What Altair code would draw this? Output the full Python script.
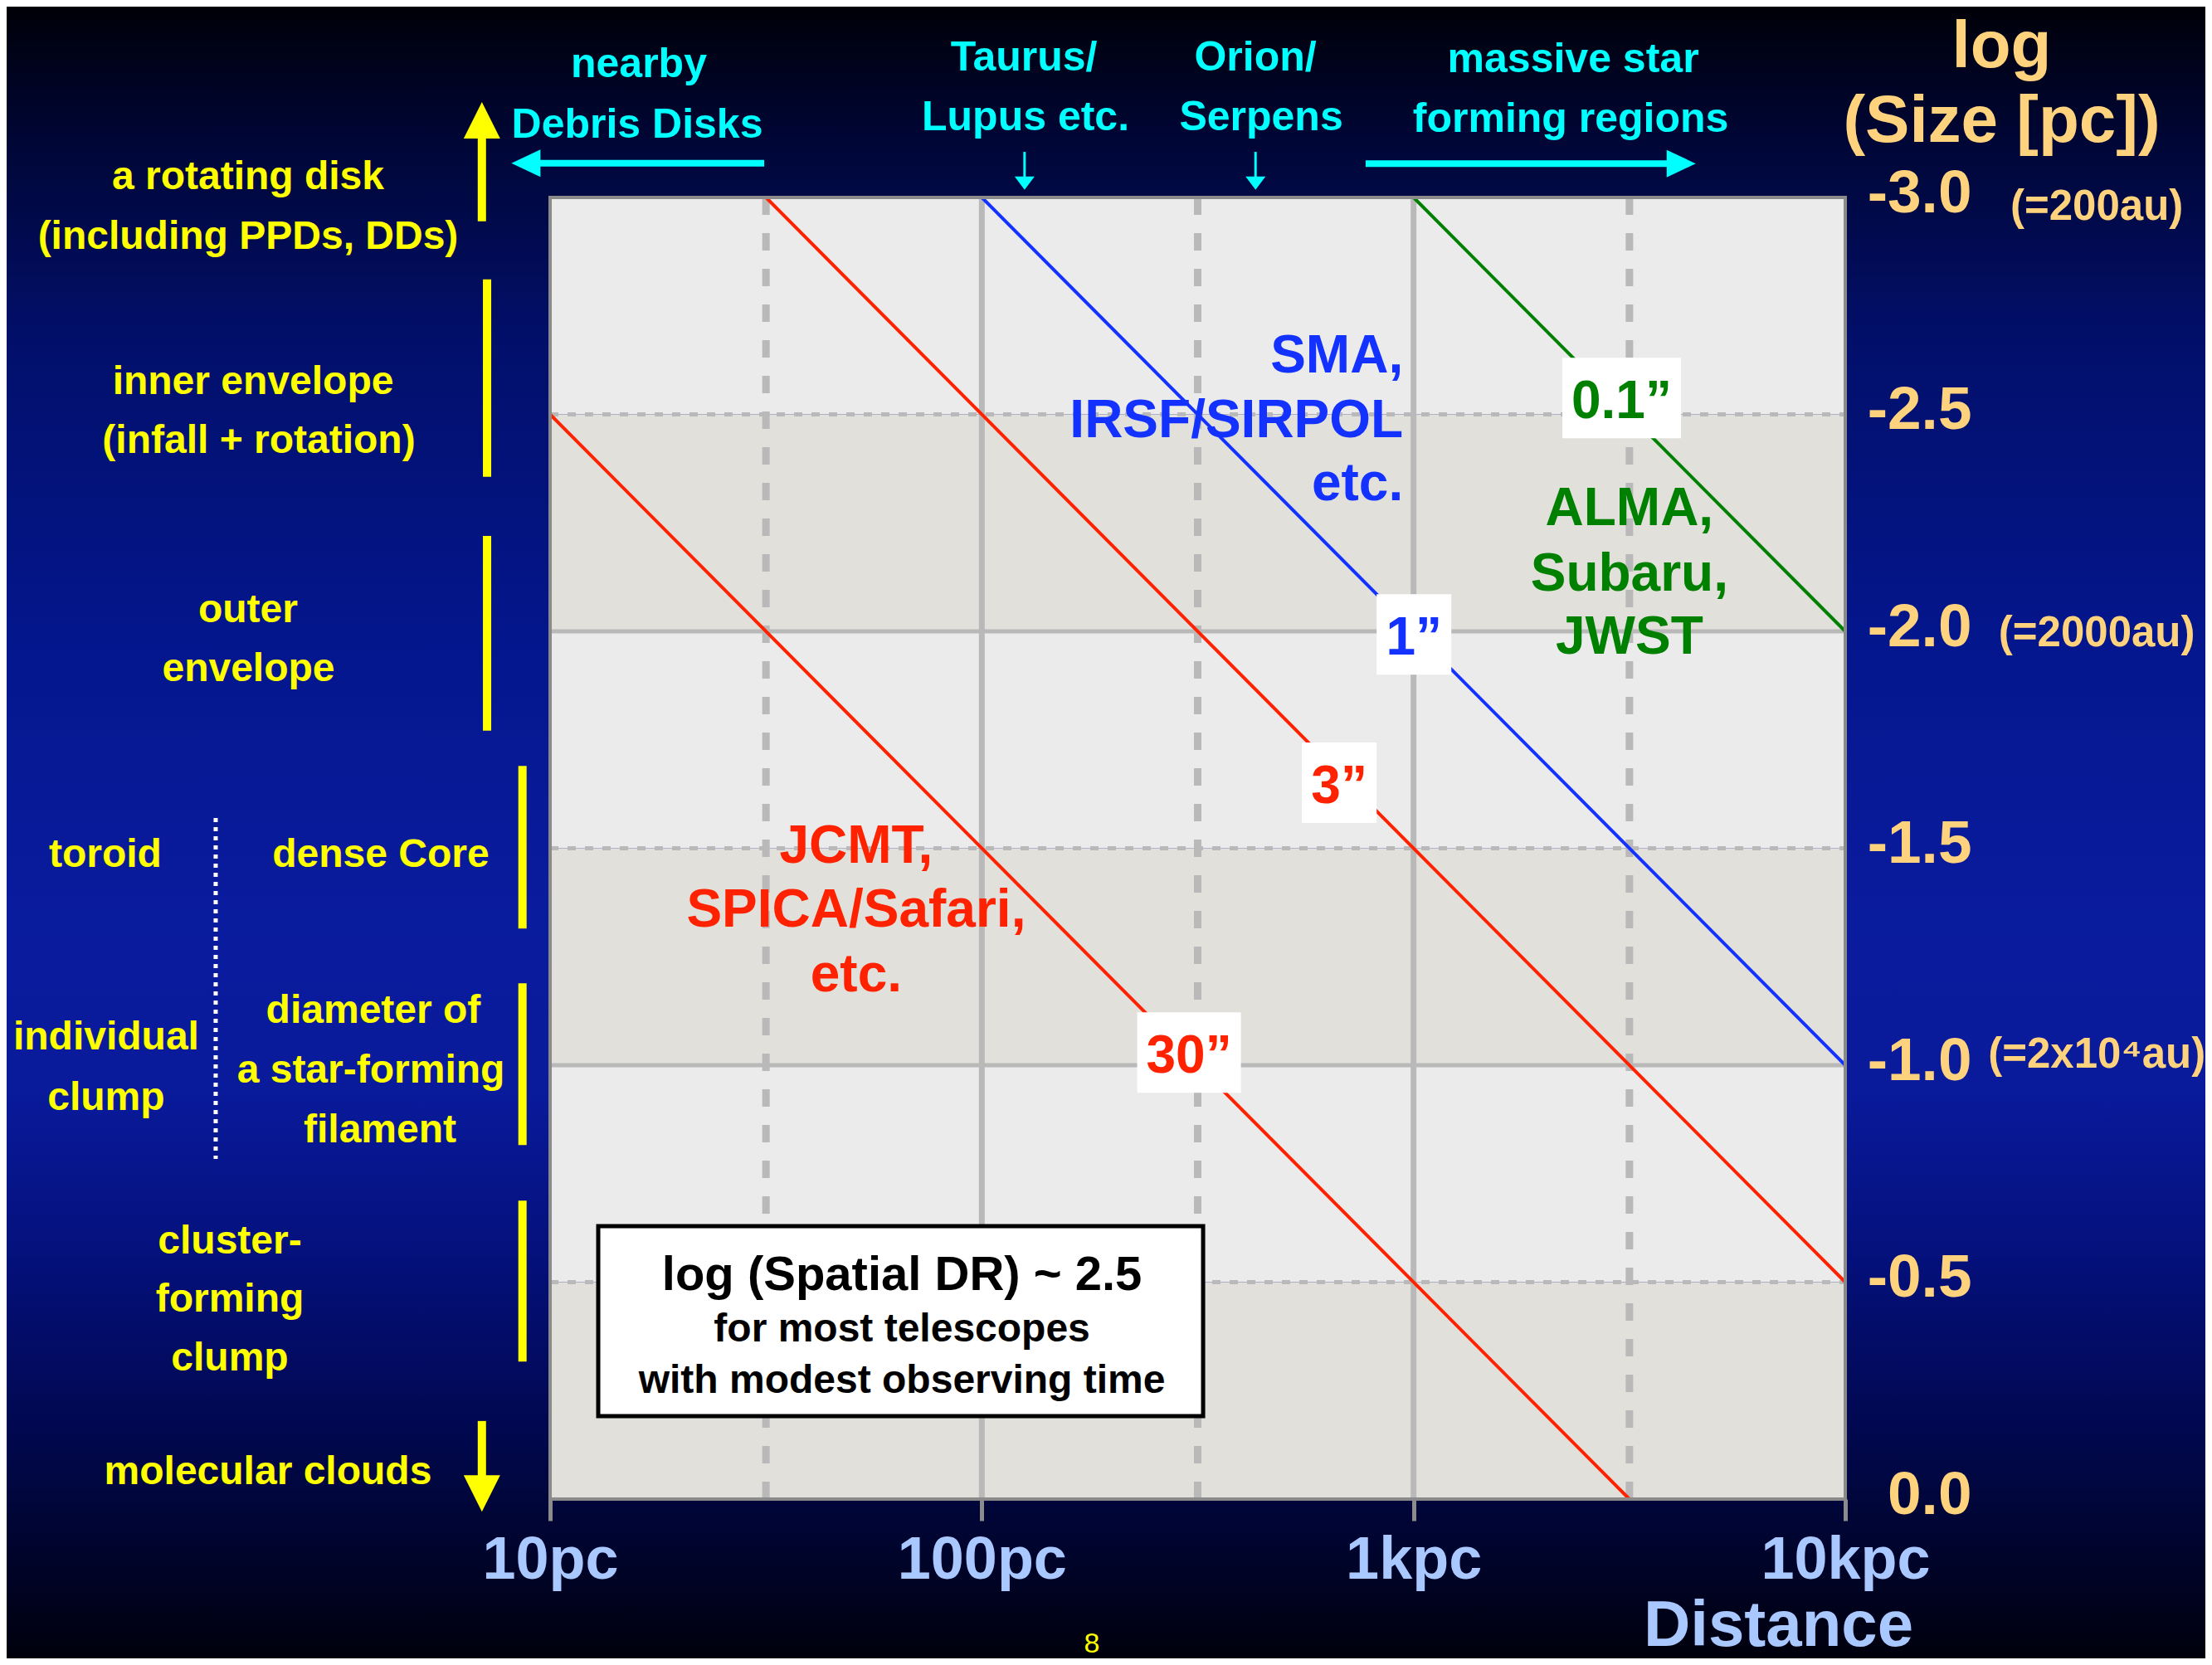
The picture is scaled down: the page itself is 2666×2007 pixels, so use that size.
import json
import altair as alt
import pandas as pd

# ---------------- data ----------------
# plot-area background bands (log size ranges)
band_lo = [-3.0, -2.5, -2.0, -1.5, -1.0, -0.5]
band_hi = [-2.5, -2.0, -1.5, -1.0, -0.5, 0.0]
band_kind = ["light", "dark", "light", "dark", "light", "dark"]

grid_x_solid = [2.0, 3.0]
grid_x_dash = [1.5, 2.5, 3.5]
grid_y_solid = [-2.0, -1.0]
grid_y_dash = [-2.5, -1.5, -0.5]

# axis ticks
x_ticks = [1, 2, 3, 4]
x_tick_labels = ["10pc", "100pc", "1kpc", "10kpc"]
y_ticks = [-3.0, -2.5, -2.0, -1.5, -1.0, -0.5, 0.0]

# angular-resolution lines (log distance -> log size)
res_label = ["30”", "3”", "1”", "0.1”"]
res_tone = ["red", "red", "blue", "green"]
res_x0 = [1.0, 1.5, 2.0, 3.0]
res_y0 = [-2.5, -3.0, -3.0, -3.0]
res_x1 = [3.5, 4.0, 4.0, 4.0]
res_y1 = [0.0, -0.5, -1.0, -2.0]
res_lab_x = [2.480, 2.828, 3.001, 3.482]
res_lab_y = [-1.029, -1.651, -1.993, -2.538]

# telescope labels
tel_text = ["SMA,", "IRSF/SIRPOL", "etc.", "ALMA,", "Subaru,", "JWST",
            "JCMT,", "SPICA/Safari,", "etc."]
tel_tone = ["blue"] * 3 + ["green"] * 3 + ["red"] * 3
tel_align = ["right"] * 3 + ["center"] * 6
tel_x = [2.976] * 3 + [3.500] * 3 + [1.709] * 3
tel_y = [-2.597, -2.447, -2.302, -2.245, -2.094, -1.948, -1.467, -1.319, -1.170]

# dynamic-range note box
dr_box_x = [1.1115, 2.5126]
dr_box_y = [-0.629, -0.191]
dr_text = ["log (Spatial DR) ~ 2.5", "for most telescopes", "with modest observing time"]
dr_level = ["main", "sub", "sub"]
dr_x = [1.815, 1.815, 1.815]
dr_y = [-0.482, -0.363, -0.245]

# left: structure labels (yellow)
st_text = ["a rotating disk", "(including PPDs, DDs)", "inner envelope", "(infall + rotation)",
           "outer", "envelope", "toroid", "dense Core", "individual", "clump",
           "diameter of", "a star-forming", "filament", "cluster-", "forming", "clump",
           "molecular clouds"]
st_x = [0.3004, 0.3004, 0.312, 0.3254, 0.3004, 0.3014, -0.0302, 0.6079, -0.0283, -0.0283,
        0.5906, 0.5849, 0.606, 0.2581, 0.2581, 0.2581, 0.3465]
st_y = [-3.0191, -2.8815, -2.5468, -2.4111, -2.0210, -1.8853, -1.4570, -1.4570, -1.0363,
        -0.8967, -1.0975, -0.9598, -0.8222, -0.5660, -0.4321, -0.2964, -0.0344]

# left: yellow range bars and arrow shafts (x, from, to)
yb_x = [0.842, 0.854, 0.854, 0.936, 0.936, 0.936, 0.842]
yb_y0 = [-2.945, -2.811, -2.220, -1.690, -1.189, -0.688, -0.180]
yb_y1 = [-3.160, -2.356, -1.771, -1.315, -0.816, -0.317, -0.030]

# dotted separator (toroid / individual clump)
dot_x = [0.2254]
dot_y0 = [-1.570]
dot_y1 = [-0.784]

# top: region labels (cyan)
rg_text = ["nearby", "Debris Disks", "Taurus/", "Lupus etc.", "Orion/", "Serpens",
           "massive star", "forming regions"]
rg_x = [1.2056, 1.2018, 2.0975, 2.1013, 2.6337, 2.6471, 3.3698, 3.364]
rg_y = [-3.2772, -3.1377, -3.2925, -3.1549, -3.2925, -3.1549, -3.2887, -3.1511]

# top: cyan arrow shafts
ch_x0 = [1.496, 2.889]
ch_x1 = [0.965, 3.600]
ch_y = [-3.079, -3.078]
ct_x = [2.099, 2.634]
ct_y0 = [-3.105, -3.105]
ct_y1 = [-3.045, -3.045]

# arrow heads
head_kind = ["up", "down", "left", "right", "thin", "thin"]
head_x = [0.842, 0.842, 0.944, 3.620, 2.099, 2.634]
head_y = [-3.178, -0.013, -3.079, -3.078, -3.033, -3.033]

# right: size equivalents
au_text = ["(=200au)", "(=2000au)", "(=2x10⁴au)"]
au_x = [4.5826, 4.5826, 4.5826]
au_y = [-2.948, -1.966, -0.994]

page_text = ["8"]
page_x = [2.255]
page_y = [0.3537]

# ---------------- styles ----------------
FONT = "Liberation Sans"
YELLOW = "#FFFF00"
CYAN = "#00FFFF"
ORANGE = "#FFD27D"
PALEBLUE = "#A9C8FF"
GRID = "#B9B9B9"

W, H = 1561, 1569
PAD = {"left": 655, "top": 230, "right": 434, "bottom": 192}

XS = alt.Scale(domain=[1, 4], nice=False, zero=False)
YS = alt.Scale(domain=[-3, 0], reverse=True, nice=False, zero=False)

XA = alt.Axis(
    values=x_ticks, labelExpr=json.dumps(x_tick_labels) + "[round(datum.value) - 1]",
    title="Distance", grid=False, domain=False, ticks=True, tickSize=26, tickWidth=5,
    tickColor="#8c8c8c", labelFont=FONT, labelFontSize=72, labelFontWeight="bold",
    labelColor=PALEBLUE, labelPadding=12, labelFlush=False, labelOverlap=False, labelLimit=0,
    titleFont=FONT, titleFontSize=78, titleFontWeight="bold", titleColor=PALEBLUE,
    titleX=1480, titleY=176, titleAlign="center", titleBaseline="alphabetic",
    titleLimit=0, zindex=1)
YA = alt.Axis(
    orient="right", values=y_ticks,
    labelExpr="datum.value < 0 ? '-' + format(-datum.value, '.1f') : format(datum.value, '.1f')",
    title=["log", "(Size [pc])"], grid=False, domain=False, ticks=False,
    labelAlign="right", labelBaseline="alphabetic", labelOffset=17, labelPadding=152,
    labelFont=FONT, labelFontSize=73, labelFontWeight="bold", labelColor=ORANGE,
    labelOverlap=False, labelFlush=False, labelLimit=0,
    titleFont=FONT, titleFontSize=80, titleFontWeight="bold", titleColor=ORANGE,
    titleAngle=0, titleX=188, titleY=-158, titleAlign="center", titleBaseline="alphabetic",
    titleLineHeight=90, titleLimit=0, zindex=1)

TONE = alt.Scale(domain=["red", "blue", "green"], range=["#FF2200", "#1432FF", "#008000"])


def X(f):
    return alt.X(f, type="quantitative", scale=XS, axis=XA)


def Y(f):
    return alt.Y(f, type="quantitative", scale=YS, axis=YA)


# ---------------- layers ----------------
layers = []

# slide background gradient
grad = alt.LinearGradient(
    gradient="linear", x1=0, x2=0, y1=0, y2=1,
    stops=[alt.GradientStop(offset=0.0, color="#000008"),
           alt.GradientStop(offset=0.08, color="#000635"),
           alt.GradientStop(offset=0.2, color="#020f6a"),
           alt.GradientStop(offset=0.38, color="#04168c"),
           alt.GradientStop(offset=0.55, color="#0a1c9e"),
           alt.GradientStop(offset=0.66, color="#091a9a"),
           alt.GradientStop(offset=0.76, color="#04107a"),
           alt.GradientStop(offset=0.86, color="#010850"),
           alt.GradientStop(offset=0.94, color="#00042a"),
           alt.GradientStop(offset=1.0, color="#00000c")])
layers.append(
    alt.Chart(pd.DataFrame({"a": [0]})).mark_rect(fill=grad, strokeWidth=0).encode(
        x=alt.value(-PAD["left"]), x2=alt.value(W + PAD["right"]),
        y=alt.value(-PAD["top"]), y2=alt.value(H + PAD["bottom"])))

# bands
bands = pd.DataFrame({"x0": [1.0] * 6, "x1": [4.0] * 6, "lo": band_lo, "hi": band_hi, "band": band_kind})
layers.append(alt.Chart(bands).mark_rect().encode(
    x=X("x0"), x2="x1", y=Y("lo"), y2="hi",
    fill=alt.Fill("band:N", scale=alt.Scale(domain=["light", "dark"], range=["#EBEBEB", "#E1E0DB"]),
                  legend=None)))

# grid lines
gxs = pd.DataFrame({"x": grid_x_solid, "y0": -3.0, "y1": 0.0})
gxd = pd.DataFrame({"x": grid_x_dash, "y0": -3.0, "y1": 0.0})
gys = pd.DataFrame({"y": grid_y_solid, "x0": 1.0, "x1": 4.0})
gyd = pd.DataFrame({"y": grid_y_dash, "x0": 1.0, "x1": 4.0})
layers.append(alt.Chart(gys).mark_rule(color=GRID, strokeWidth=5).encode(x=X("x0"), x2="x1", y=Y("y")))
layers.append(alt.Chart(gyd).mark_rule(color=GRID, strokeWidth=5, strokeDash=[10, 11]).encode(
    x=X("x0"), x2="x1", y=Y("y")))
layers.append(alt.Chart(gxs).mark_rule(color=GRID, strokeWidth=7).encode(x=X("x"), y=Y("y0"), y2="y1"))
layers.append(alt.Chart(gxd).mark_rule(color=GRID, strokeWidth=9, strokeDash=[21, 22]).encode(
    x=X("x"), y=Y("y0"), y2="y1"))

# resolution lines
rows = []
for lab, tone, a, b, c, d in zip(res_label, res_tone, res_x0, res_y0, res_x1, res_y1):
    rows.append({"label": lab, "tone": tone, "x": a, "y": b})
    rows.append({"label": lab, "tone": tone, "x": c, "y": d})
res_df = pd.DataFrame(rows)
layers.append(alt.Chart(res_df).mark_line(strokeWidth=4).encode(
    x=X("x"), y=Y("y"), detail="label:N", color=alt.Color("tone:N", scale=TONE, legend=None)))

# plot border
border = pd.DataFrame({"x0": [1.0], "x1": [4.0], "y0": [-3.0], "y1": [0.0]})
layers.append(alt.Chart(border).mark_rect(fillOpacity=0, stroke="#8a8a8a", strokeWidth=4).encode(
    x=X("x0"), x2="x1", y=Y("y0"), y2="y1"))

# white boxes behind resolution labels
res_lab = pd.DataFrame({"label": res_label, "tone": res_tone, "x": res_lab_x, "y": res_lab_y})
box_half = {"30”": 1.289, "3”": 0.928, "1”": 0.928, "0.1”": 1.474}
for lab, hw in box_half.items():
    path = f"M{-hw},-1L{hw},-1L{hw},1L{-hw},1Z"
    layers.append(alt.Chart(res_lab).transform_filter(alt.datum.label == lab).mark_point(
        shape=path, size=97 * 97, filled=True, color="white", opacity=1, strokeWidth=0).encode(
        x=X("x"), y=Y("y")))
layers.append(alt.Chart(res_lab).mark_text(
    font=FONT, fontSize=64, fontWeight="bold", baseline="middle", dy=5).encode(
    x=X("x"), y=Y("y"), text="label:N", color=alt.Color("tone:N", scale=TONE, legend=None)))

# telescope labels
tel = pd.DataFrame({"text": tel_text, "tone": tel_tone, "align": tel_align, "x": tel_x, "y": tel_y})
for al in ["right", "center"]:
    layers.append(alt.Chart(tel).transform_filter(alt.datum.align == al).mark_text(
        font=FONT, fontSize=64, fontWeight="bold", align=al, baseline="alphabetic").encode(
        x=X("x"), y=Y("y"), text="text:N", color=alt.Color("tone:N", scale=TONE, legend=None)))

# DR box
drb = pd.DataFrame({"x0": [dr_box_x[0]], "x1": [dr_box_x[1]], "y0": [dr_box_y[0]], "y1": [dr_box_y[1]]})
layers.append(alt.Chart(drb).mark_rect(fill="white", stroke="black", strokeWidth=5).encode(
    x=X("x0"), x2="x1", y=Y("y0"), y2="y1"))
drt = pd.DataFrame({"text": dr_text, "level": dr_level, "x": dr_x, "y": dr_y})
for lev, fs in [("main", 58), ("sub", 48)]:
    layers.append(alt.Chart(drt).transform_filter(alt.datum.level == lev).mark_text(
        font=FONT, fontSize=fs, fontWeight="bold", color="black", align="center",
        baseline="alphabetic").encode(x=X("x"), y=Y("y"), text="text:N"))

# left yellow annotations
yb = pd.DataFrame({"x": yb_x, "y0": yb_y0, "y1": yb_y1})
layers.append(alt.Chart(yb).mark_rule(color=YELLOW, strokeWidth=10).encode(x=X("x"), y=Y("y0"), y2="y1"))
dots = pd.DataFrame({"x": dot_x, "y0": dot_y0, "y1": dot_y1})
layers.append(alt.Chart(dots).mark_rule(color="white", strokeWidth=5, strokeDash=[5, 6]).encode(
    x=X("x"), y=Y("y0"), y2="y1"))
st = pd.DataFrame({"text": st_text, "x": st_x, "y": st_y})
layers.append(alt.Chart(st).mark_text(
    font=FONT, fontSize=48, fontWeight="bold", color=YELLOW, align="center",
    baseline="alphabetic").encode(x=X("x"), y=Y("y"), text="text:N"))

# top cyan annotations
chd = pd.DataFrame({"x0": ch_x0, "x1": ch_x1, "y": ch_y})
layers.append(alt.Chart(chd).mark_rule(color=CYAN, strokeWidth=8).encode(x=X("x0"), x2="x1", y=Y("y")))
ctd = pd.DataFrame({"x": ct_x, "y0": ct_y0, "y1": ct_y1})
layers.append(alt.Chart(ctd).mark_rule(color=CYAN, strokeWidth=3).encode(x=X("x"), y=Y("y0"), y2="y1"))
rg = pd.DataFrame({"text": rg_text, "x": rg_x, "y": rg_y})
layers.append(alt.Chart(rg).mark_text(
    font=FONT, fontSize=50, fontWeight="bold", color=CYAN, align="center",
    baseline="alphabetic").encode(x=X("x"), y=Y("y"), text="text:N"))

# arrow heads
heads = pd.DataFrame({"kind": head_kind, "x": head_x, "y": head_y})
head_style = {
    "up": ("M0,-1L1,1L-1,1Z", 44 * 44, YELLOW),
    "down": ("M0,1L1,-1L-1,-1Z", 44 * 44, YELLOW),
    "left": ("M-1,0L1,-0.94L1,0.94Z", 35 * 35, CYAN),
    "right": ("M1,0L-1,-0.94L-1,0.94Z", 35 * 35, CYAN),
    "thin": ("M0,0.67L1,-0.67L-1,-0.67Z", 24 * 24, CYAN),
}
for k, (path, sz, col) in head_style.items():
    layers.append(alt.Chart(heads).transform_filter(alt.datum.kind == k).mark_point(
        shape=path, size=sz, filled=True, color=col, opacity=1, strokeWidth=0).encode(
        x=X("x"), y=Y("y")))

# right: au equivalents
au = pd.DataFrame({"text": au_text, "x": au_x, "y": au_y})
layers.append(alt.Chart(au).mark_text(
    font=FONT, fontSize=51, fontWeight="bold", color=ORANGE, align="center",
    baseline="alphabetic").encode(x=X("x"), y=Y("y"), text="text:N"))

# page number
pg = pd.DataFrame({"text": page_text, "x": page_x, "y": page_y})
layers.append(alt.Chart(pg).mark_text(
    font=FONT, fontSize=34, color=YELLOW, align="center", baseline="alphabetic").encode(
    x=X("x"), y=Y("y"), text="text:N"))

chart = alt.layer(*layers).properties(
    width=W, height=H, padding=PAD,
    autosize=alt.AutoSizeParams(type="none"),
    background="#00000c",
).configure_view(stroke=None)

chart.save("out.html", embed_options={"renderer": "svg", "actions": False})
